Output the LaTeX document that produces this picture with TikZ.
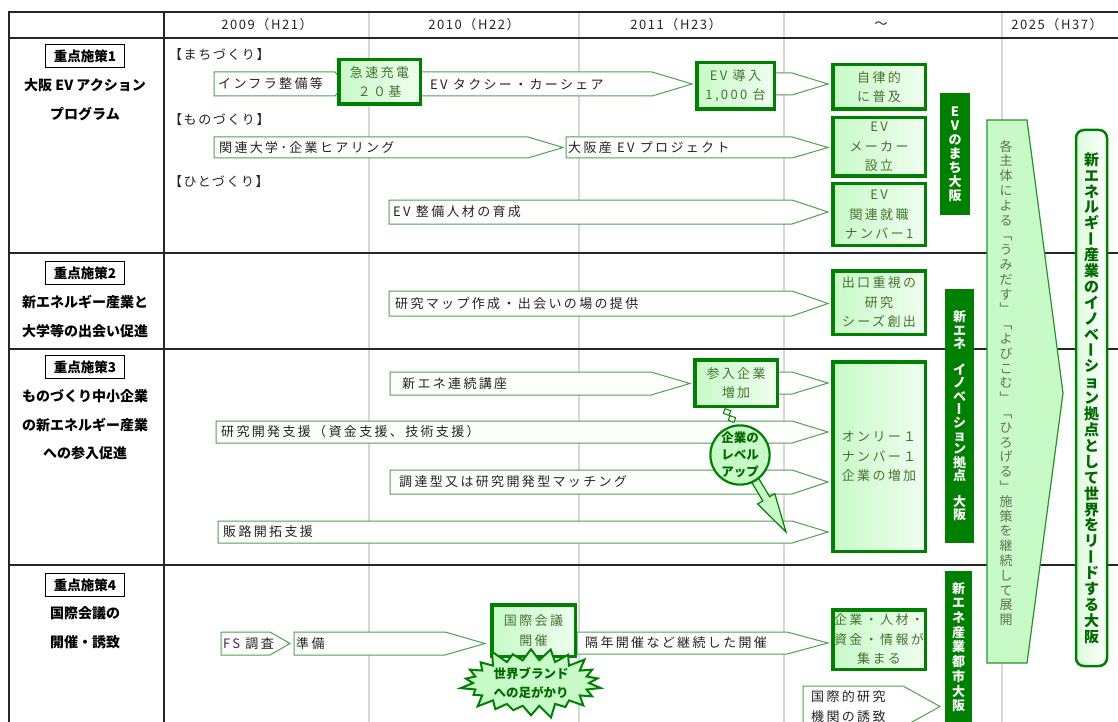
\documentclass[tikz,border=0pt]{standalone}
\usepackage{fontspec}
\usepackage{graphicx}
\usetikzlibrary{shapes.symbols}
\setmainfont{Noto Sans CJK JP}
\newfontfamily\ls{Noto Sans CJK JP}[LetterSpace=18]
\newfontfamily\lsh{Noto Sans CJK JP}[LetterSpace=12]
\definecolor{gdark}{RGB}{0,128,0}
\definecolor{garrow}{RGB}{80,160,80}
\definecolor{glight}{RGB}{200,250,200}
\definecolor{gtext}{RGB}{70,115,50}
\definecolor{gbold}{RGB}{0,105,0}
\definecolor{gridgray}{RGB}{215,215,215}
\definecolor{vtgray}{RGB}{95,115,85}
\definecolor{txt}{RGB}{35,35,35}
\definecolor{fspurple}{RGB}{90,30,100}
% vertical text helpers
\newcommand\cjkstrut{\vrule height .88em depth .12em width 0pt}
\newcommand\VB{\rotatebox[origin=c]{-90}{\cjkstrut ー}}
\newcommand\LQ{\rotatebox[origin=c]{-90}{\cjkstrut 「}}
\newcommand\RQ{\rotatebox[origin=c]{-90}{\cjkstrut 」}}
\newcommand\VS{}
\newdimen\vtcell
\def\vtend{\vtend}
\newcommand\vtxt[2]{\vtcell=#1\relax\vbox{\offinterlineskip\vtloop#2\vtend}}
\def\vtloop#1{\ifx#1\vtend\else\hbox to 1.3em{\hss\vbox to\vtcell{\vss\hbox{\cjkstrut#1}\vss}\hss}\expandafter\vtloop\fi}
\tikzset{
 arr/.style={draw=garrow, line width=1pt, fill=white, line join=miter},
 atext/.style={font=\ls\fontsize{13}{20}\selectfont, text=txt, inner sep=0pt, anchor=west, align=left},
 gbox/.style={draw=gdark, line width=3.5pt, left color=glight, right color=white!70!glight, text=gtext, align=center, font=\ls\fontsize{13}{19.5}\selectfont, inner sep=0pt},
 gbar/.style={fill=gdark, draw=none, text=white, font=\bfseries\fontsize{13}{13}\selectfont, inner sep=0pt},
 rowlbl/.style={font=\bfseries\fontsize{14}{16}\selectfont, text=black, inner sep=0pt},
 tagbox/.style={draw=black, line width=1pt, font=\bfseries\fontsize{13.5}{16}\selectfont, inner sep=0pt, minimum width=79pt, minimum height=23pt, fill=white},
 sect/.style={font=\lsh\fontsize{13}{15}\selectfont, anchor=west, inner sep=0pt, text=txt},
 hdr/.style={font=\lsh\fontsize{13}{14}\selectfont, text=txt, inner sep=0pt},
 tline/.style={line width=1.5pt, draw=black!85},
 gline/.style={line width=1.8pt, draw=gridgray},
 trap/.style={draw=gdark!85, line width=1.2pt, fill=glight, line join=miter},
 vtg/.style={text=vtgray, font=\fontsize{13}{13}\selectfont, inner sep=0pt},
 lead/.style={draw=gdark, line width=2.5pt, rounded corners=8pt, minimum width=31pt, minimum height=536pt, inner sep=0pt, left color=white!40!glight, right color=white, text=gbold, font=\bfseries\fontsize{15}{15}\selectfont},
 callout/.style={draw=gdark, line width=2.2pt, fill=glight, text=gbold, align=center, inner sep=0pt, font=\bfseries\fontsize{12.5}{17}\selectfont},
}
\newcommand\parrow[8]{%
 \draw[arr] (#2,#3) -- (#4,#3) -- (#5,{(#3+#6)/2}) -- (#4,#6) -- (#2,#6) -- cycle;
 \node[atext] (#1) at ({#2+#7},{(#3+#6)/2}) {#8};}
\newcommand\gboxat[6]{%
 \pgfmathsetmacro\gbw{#4-#2-3.5}\pgfmathsetmacro\gbh{#5-#3-3.5}%
 \pgfmathsetmacro\gbx{(#2+#4)/2}\pgfmathsetmacro\gby{(#3+#5)/2}%
 \node[gbox, minimum width=\gbw pt, minimum height=\gbh pt] (#1) at (\gbx,\gby) {#6};}
\begin{document}
\begin{tikzpicture}[x=1pt,y=-1pt]
\path[use as bounding box] (0,0) rectangle (1118,722);
\clip (0,0) rectangle (1118,722);
\fill[white] (0,0) rectangle (1118,722);
% grid
\foreach \gx in {369,579,784,1002} \draw[gline] (\gx,12) -- (\gx,722);
\draw[tline] (8,12) -- (1118,12);
\draw[tline] (8,38) -- (1118,38);
\draw[tline] (8,253) -- (1118,253);
\draw[tline] (8,349) -- (1118,349);
\draw[tline] (8,565) -- (1118,565);
\draw[tline] (9,12) -- (9,722);
\draw[tline] (164,12) -- (164,722);
% header
\node[hdr] (hA) at (267,25) {2009（H21）};
\node[hdr] (hB) at (474,25) {2010（H22）};
\node[hdr] (hC) at (676,25) {2011（H23）};
\node[hdr] (hD) at (881,25) {～};
\node[hdr] (hE) at (1057,25) {2025（H37）};
% left labels
\node[tagbox] (t1) at (85,56) {重点施策1};
\node[rowlbl] (l1a) at (85,85) {大阪 EV アクション};
\node[rowlbl] (l1b) at (85,114) {プログラム};
\node[tagbox] (t2) at (85,273) {重点施策2};
\node[rowlbl] (l2a) at (85,302) {新エネルギー産業と};
\node[rowlbl] (l2b) at (85,331) {大学等の出会い促進};
\node[tagbox] (t3) at (85,367) {重点施策3};
\node[rowlbl] (l3a) at (85,396) {ものづくり中小企業};
\node[rowlbl] (l3b) at (85,425) {の新エネルギー産業};
\node[rowlbl] (l3c) at (85,453) {への参入促進};
\node[tagbox] (t4) at (85,585) {重点施策4};
\node[rowlbl] (l4a) at (85,613) {国際会議の};
\node[rowlbl] (l4b) at (85,642) {開催・誘致};
% section labels
\node[sect] (s1) at (169,55) {【まちづくり】};
\node[sect] (s2) at (169,120) {【ものづくり】};
\node[sect] (s3) at (169,182) {【ひとづくり】};
% arrows
\parrow{a1}{214}{72}{335}{345}{96}{4}{インフラ整備等}
\parrow{a2}{420}{72}{652}{692}{96}{10}{EV タクシー・カーシェア}
\parrow{a3}{770}{73}{792}{828}{95}{0}{}
\parrow{a4}{214}{137}{528}{563}{158}{5}{関連大学･企業ヒアリング}
\parrow{a5}{566}{137}{792}{828}{158}{2}{大阪産 EV プロジェクト}
\parrow{a6}{389}{200}{792}{828}{224}{4}{EV 整備人材の育成}
\parrow{a7}{389}{291}{792}{828}{316}{6}{研究マップ作成・出会いの場の提供}
\parrow{a8}{390}{372}{651}{690}{395}{12}{新エネ連続講座}
\parrow{a9}{770}{372}{792}{828}{394}{0}{}
\parrow{a10}{216}{421}{792}{828}{443}{5}{研究開発支援（資金支援、技術支援）}
\parrow{a11}{390}{470}{792}{828}{494}{9}{調達型又は研究開発型マッチング}
\parrow{a12}{218}{521}{792}{828}{543}{5}{販路開拓支援}
\parrow{a13}{221}{632}{270}{290}{655}{2}{\textcolor{fspurple}{FS} 調査}
\parrow{a14}{294}{632}{445}{485}{655}{2}{準備}
\parrow{a15}{577}{632}{787}{828}{654}{8}{隔年開催など継続した開催}
\parrow{a16}{803}{686}{903}{940}{727}{8}{国際的研究\\機関の誘致}
% green boxes
\gboxat{b1}{337}{58}{422}{106}{急速充電\\２０基}
\gboxat{b2}{695}{61}{776}{111}{EV 導入\\1,000 台}
\gboxat{b3}{831}{63}{927}{111}{自律的\\に普及}
\gboxat{b4}{831}{116}{927}{178}{EV\\メーカー\\設立}
\gboxat{b5}{831}{182}{927}{247}{EV\\関連就職\\ナンバー1}
\gboxat{b6}{831}{269}{927}{336}{出口重視の\\研究\\シーズ創出}
\gboxat{b7}{693}{358}{779}{408}{参入企業\\増加}
\gboxat{b8}{831}{360}{927}{553}{オンリー１\\ナンバー１\\企業の増加}
\gboxat{b9}{490}{603}{577}{658}{国際会議\\開催}
\gboxat{b10}{831}{608}{927}{671}{企業・人材・\\資金・情報が\\集まる}
% dark bars
\node[gbar, minimum width=30pt, minimum height=122pt] (v1) at (955,154) {\vtxt{14pt}{EVのまち大阪}};
\node[gbar, minimum width=29pt, minimum height=254pt] (v2) at (959.5,416) {\vtxt{13.2pt}{新エネ\VS イノベ\VB ション拠点\VS 大阪}};
\node[gbar, minimum width=27pt, minimum height=170pt, anchor=north] (v3) at (958.5,571) {};
\node[text=white, font=\bfseries\fontsize{13}{13}\selectfont, inner sep=0pt] (v3t) at (958.5,647) {\vtxt{14.7pt}{新エネ産業都市大阪}};
% wide arrow
\draw[trap] (987,120) -- (1027,120) -- (1063,393) -- (1027,663) -- (987,663) -- cycle;
\node[vtg] (tt) at (1006,383) {\vtxt{14.8pt}{各主体による\LQ うみだす\RQ\LQ よびこむ\RQ\LQ ひろげる\RQ 施策を継続して展開}};
% lead box
\node[lead] (ld) at (1091.5,398) {\vtxt{15.9pt}{新エネルギ\VB 産業のイノベ\VB ション拠点として世界をリ\VB ドする大阪}};
% level up callout
\draw[draw=gdark, line width=1.2pt, fill=glight, line join=miter] (753.7,470.1) -- (769.6,496.7) -- (774.8,493.7) -- (786,532) -- (757.6,503.9) -- (762.8,500.9) -- (746.9,474.3) -- cycle;
\node[draw=gdark, line width=1pt, fill=white, minimum width=6pt, minimum height=5pt, rotate=-20, inner sep=0pt] (sq1) at (727,412) {};
\node[draw=gdark, line width=1pt, fill=white, minimum width=6pt, minimum height=5pt, rotate=-20, inner sep=0pt] (sq2) at (732,419) {};
\node[callout, circle, minimum size=58pt] (lvl) at (740,455) {企業の\\レベル\\アップ};
% starburst
\node[callout, starburst, starburst points=22, starburst point height=15pt, minimum width=146pt, minimum height=76pt, line width=2pt, font=\bfseries\fontsize{12.5}{19}\selectfont] (brand) at (531,683) {世界ブランド\\への足がかり};
\end{tikzpicture}
\end{document}
